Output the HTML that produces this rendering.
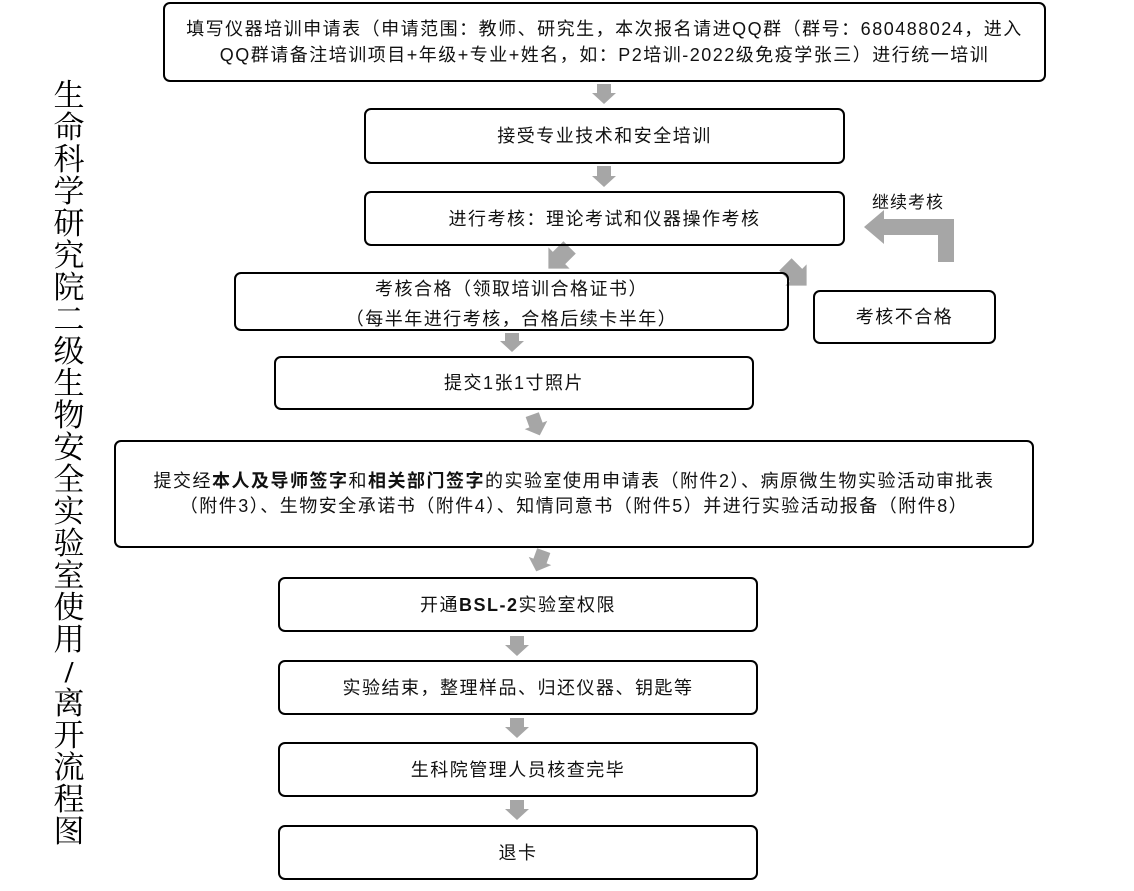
<!DOCTYPE html>
<html><head><meta charset="utf-8"><style>
html,body{margin:0;padding:0;background:#fff;}
body{width:1134px;height:891px;position:relative;overflow:hidden;font-family:"Liberation Sans","Noto Sans CJK SC",sans-serif;color:#111;}
.b{position:absolute;box-sizing:border-box;border:2px solid #000;border-radius:7px;display:flex;flex-direction:column;align-items:center;justify-content:center;text-align:center;font-size:18px;letter-spacing:1.5px;line-height:26px;white-space:nowrap;}
.t{position:absolute;left:52px;width:34px;text-align:center;font-family:"Liberation Serif","Noto Serif CJK SC",serif;font-size:31px;line-height:32px;color:#000;}
svg{position:absolute;left:0;top:0;}
</style></head><body>
<svg width="1134" height="891">
<g fill="#a6a6a6">
<polygon points="597,84 611,84 611,93 616,93 604,104 592,93 597,93"/>
<polygon points="597,166 611,166 611,176 616,176 604,187 592,176 597,176"/>
<polygon points="505,333 519,333 519,341 524,341 512,352 500,341 505,341"/>
<polygon points="510,636 524,636 524,645 529,645 517,656 505,645 510,645"/>
<polygon points="510,718 524,718 524,727 529,727 517,738 505,727 510,727"/>
<polygon points="510,800 524,800 524,809 529,809 517,820 505,809 510,809"/>
<g transform="translate(559,258) rotate(45) scale(1.25)"><polygon points="-7,-12 7,-12 7,0 12,0 0,12 -12,0 -7,0"/></g>
<g transform="translate(796,275) rotate(-45) scale(1.25)"><polygon points="-7,-12 7,-12 7,0 12,0 0,12 -12,0 -7,0"/></g>
<g transform="translate(536,425) rotate(-20)"><polygon points="-7,-11 7,-11 7,0 12,0 0,11 -12,0 -7,0"/></g>
<g transform="translate(540,561) rotate(20)"><polygon points="-7,-11 7,-11 7,0 12,0 0,11 -12,0 -7,0"/></g>
<polygon points="954,262 938,262 938,235 884,235 884,244 864,227 884,210 884,219 954,219"/>
</g>
</svg>
<div class="b" style="left:163px;top:2px;width:883px;height:80px;">填写仪器培训申请表（申请范围：教师、研究生，本次报名请进QQ群（群号：680488024，进入<br>QQ群请备注培训项目+年级+专业+姓名，如：P2培训-2022级免疫学张三）进行统一培训</div>
<div class="b" style="left:364px;top:108px;width:481px;height:56px;">接受专业技术和安全培训</div>
<div class="b" style="left:364px;top:191px;width:481px;height:55px;">进行考核：理论考试和仪器操作考核</div>
<div style="position:absolute;left:872px;top:188px;font-size:17px;letter-spacing:1px;">继续考核</div>
<div class="b" style="left:234px;top:272px;width:555px;height:59px;line-height:30px;justify-content:flex-start;">考核合格（领取培训合格证书）<br>（每半年进行考核，合格后续卡半年）</div>
<div class="b" style="left:813px;top:290px;width:183px;height:54px;">考核不合格</div>
<div class="b" style="left:274px;top:356px;width:480px;height:54px;">提交1张1寸照片</div>
<div class="b" style="left:114px;top:440px;width:920px;height:108px;line-height:25px;"><div>提交经<b>本人及导师签字</b>和<b>相关部门签字</b>的实验室使用申请表（附件2）、病原微生物实验活动审批表</div><div>（附件3）、生物安全承诺书（附件4）、知情同意书（附件5）并进行实验活动报备（附件8）</div></div>
<div class="b" style="left:278px;top:577px;width:480px;height:55px;"><span>开通<b>BSL-2</b>实验室权限</span></div>
<div class="b" style="left:278px;top:660px;width:480px;height:55px;">实验结束，整理样品、归还仪器、钥匙等</div>
<div class="b" style="left:278px;top:742px;width:480px;height:55px;">生科院管理人员核查完毕</div>
<div class="b" style="left:278px;top:825px;width:480px;height:55px;">退卡</div>
<div class="t" style="top:80px">生</div><div class="t" style="top:112px">命</div><div class="t" style="top:144px">科</div><div class="t" style="top:176px">学</div><div class="t" style="top:208px">研</div><div class="t" style="top:240px">究</div><div class="t" style="top:272px">院</div><div class="t" style="top:304px">二</div><div class="t" style="top:336px">级</div><div class="t" style="top:368px">生</div><div class="t" style="top:400px">物</div><div class="t" style="top:432px">安</div><div class="t" style="top:464px">全</div><div class="t" style="top:496px">实</div><div class="t" style="top:528px">验</div><div class="t" style="top:560px">室</div><div class="t" style="top:592px">使</div><div class="t" style="top:624px">用</div><div class="t" style="top:656px;font-weight:bold">/</div><div class="t" style="top:688px">离</div><div class="t" style="top:720px">开</div><div class="t" style="top:752px">流</div><div class="t" style="top:784px">程</div><div class="t" style="top:816px">图</div>
</body></html>
